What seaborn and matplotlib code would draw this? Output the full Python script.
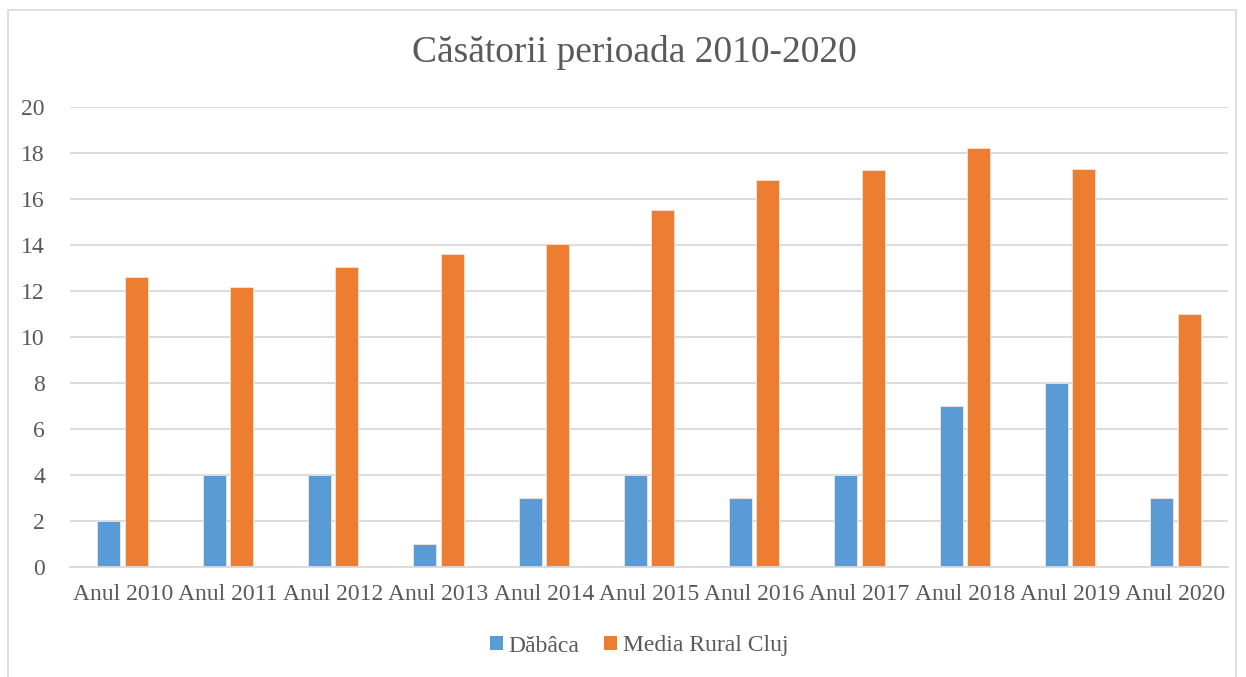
import matplotlib
matplotlib.use("Agg")
import matplotlib.pyplot as plt
import seaborn as sns
import pandas as pd
from matplotlib.patches import Rectangle

years = ["Anul 2010", "Anul 2011", "Anul 2012", "Anul 2013", "Anul 2014", "Anul 2015",
         "Anul 2016", "Anul 2017", "Anul 2018", "Anul 2019", "Anul 2020"]
dabaca = [2, 4, 4, 1, 3, 4, 3, 4, 7, 8, 3]
media_rural_cluj = [12.6, 12.17, 13.04, 13.62, 14.04, 15.53, 16.83, 17.29, 18.22, 17.32, 11.0]
series_names = ["Dăbâca", "Media Rural Cluj"]
colors = ["#5B9BD5", "#ED7D31"]
title = "Căsătorii perioada 2010-2020"

df = pd.DataFrame({
    "an": years * 2,
    "valoare": dabaca + media_rural_cluj,
    "serie": [series_names[0]] * len(years) + [series_names[1]] * len(years),
})

sns.set_theme(style="white")
plt.rcParams["font.family"] = ["Liberation Serif", "DejaVu Serif"]
txt = "#595959"
grid = "#D9D9D9"

fig = plt.figure(figsize=(12.46, 6.77), dpi=100)
ax = fig.add_axes([70 / 1246, 1 - 567 / 677, (1228 - 70) / 1246, (567 - 107.3) / 677])

sns.barplot(data=df, x="an", y="valoare", hue="serie", palette=colors, ax=ax,
            width=0.52, gap=0.16, saturation=1, errorbar=None, legend=True,
            edgecolor="#FBE3D6", linewidth=0.6)

ax.set_ylim(0, 20)
ax.set_yticks(range(0, 21, 2))
ax.set_xlim(-0.5, len(years) - 0.5)
ax.yaxis.grid(True, color=grid, linewidth=1.3)
ax.set_axisbelow(True)
for s in ["top", "right", "left"]:
    ax.spines[s].set_visible(False)
ax.spines["bottom"].set_color(grid)
ax.spines["bottom"].set_linewidth(1.3)
ax.tick_params(axis="both", length=0, labelsize=17, colors=txt)
ax.tick_params(axis="x", pad=12)
ax.tick_params(axis="y", pad=18)
ax.set_xlabel("")
ax.set_ylabel("")

fig.text(634 / 1246, 1 - 52 / 677, title, ha="center", va="center", fontsize=27, color=txt)

handles, labels = ax.get_legend_handles_labels()
ax.legend_.remove()
leg = fig.legend(handles, labels, loc="center", bbox_to_anchor=(639 / 1246, 1 - 646 / 677),
                 ncol=2, frameon=False, fontsize=17, handlelength=0.55, handleheight=0.55,
                 handletextpad=0.25, columnspacing=1.05)
for t in leg.get_texts():
    t.set_color(txt)
for h in leg.legend_handles:
    h.set_linewidth(0)

fig.patches.append(Rectangle((8 / 1246, -0.01), 1228 / 1246, 1 - 10 / 677 + 0.01,
                             transform=fig.transFigure, fill=False,
                             edgecolor="#D9D9D9", linewidth=1.2))

fig.savefig("out.png", dpi=100)
